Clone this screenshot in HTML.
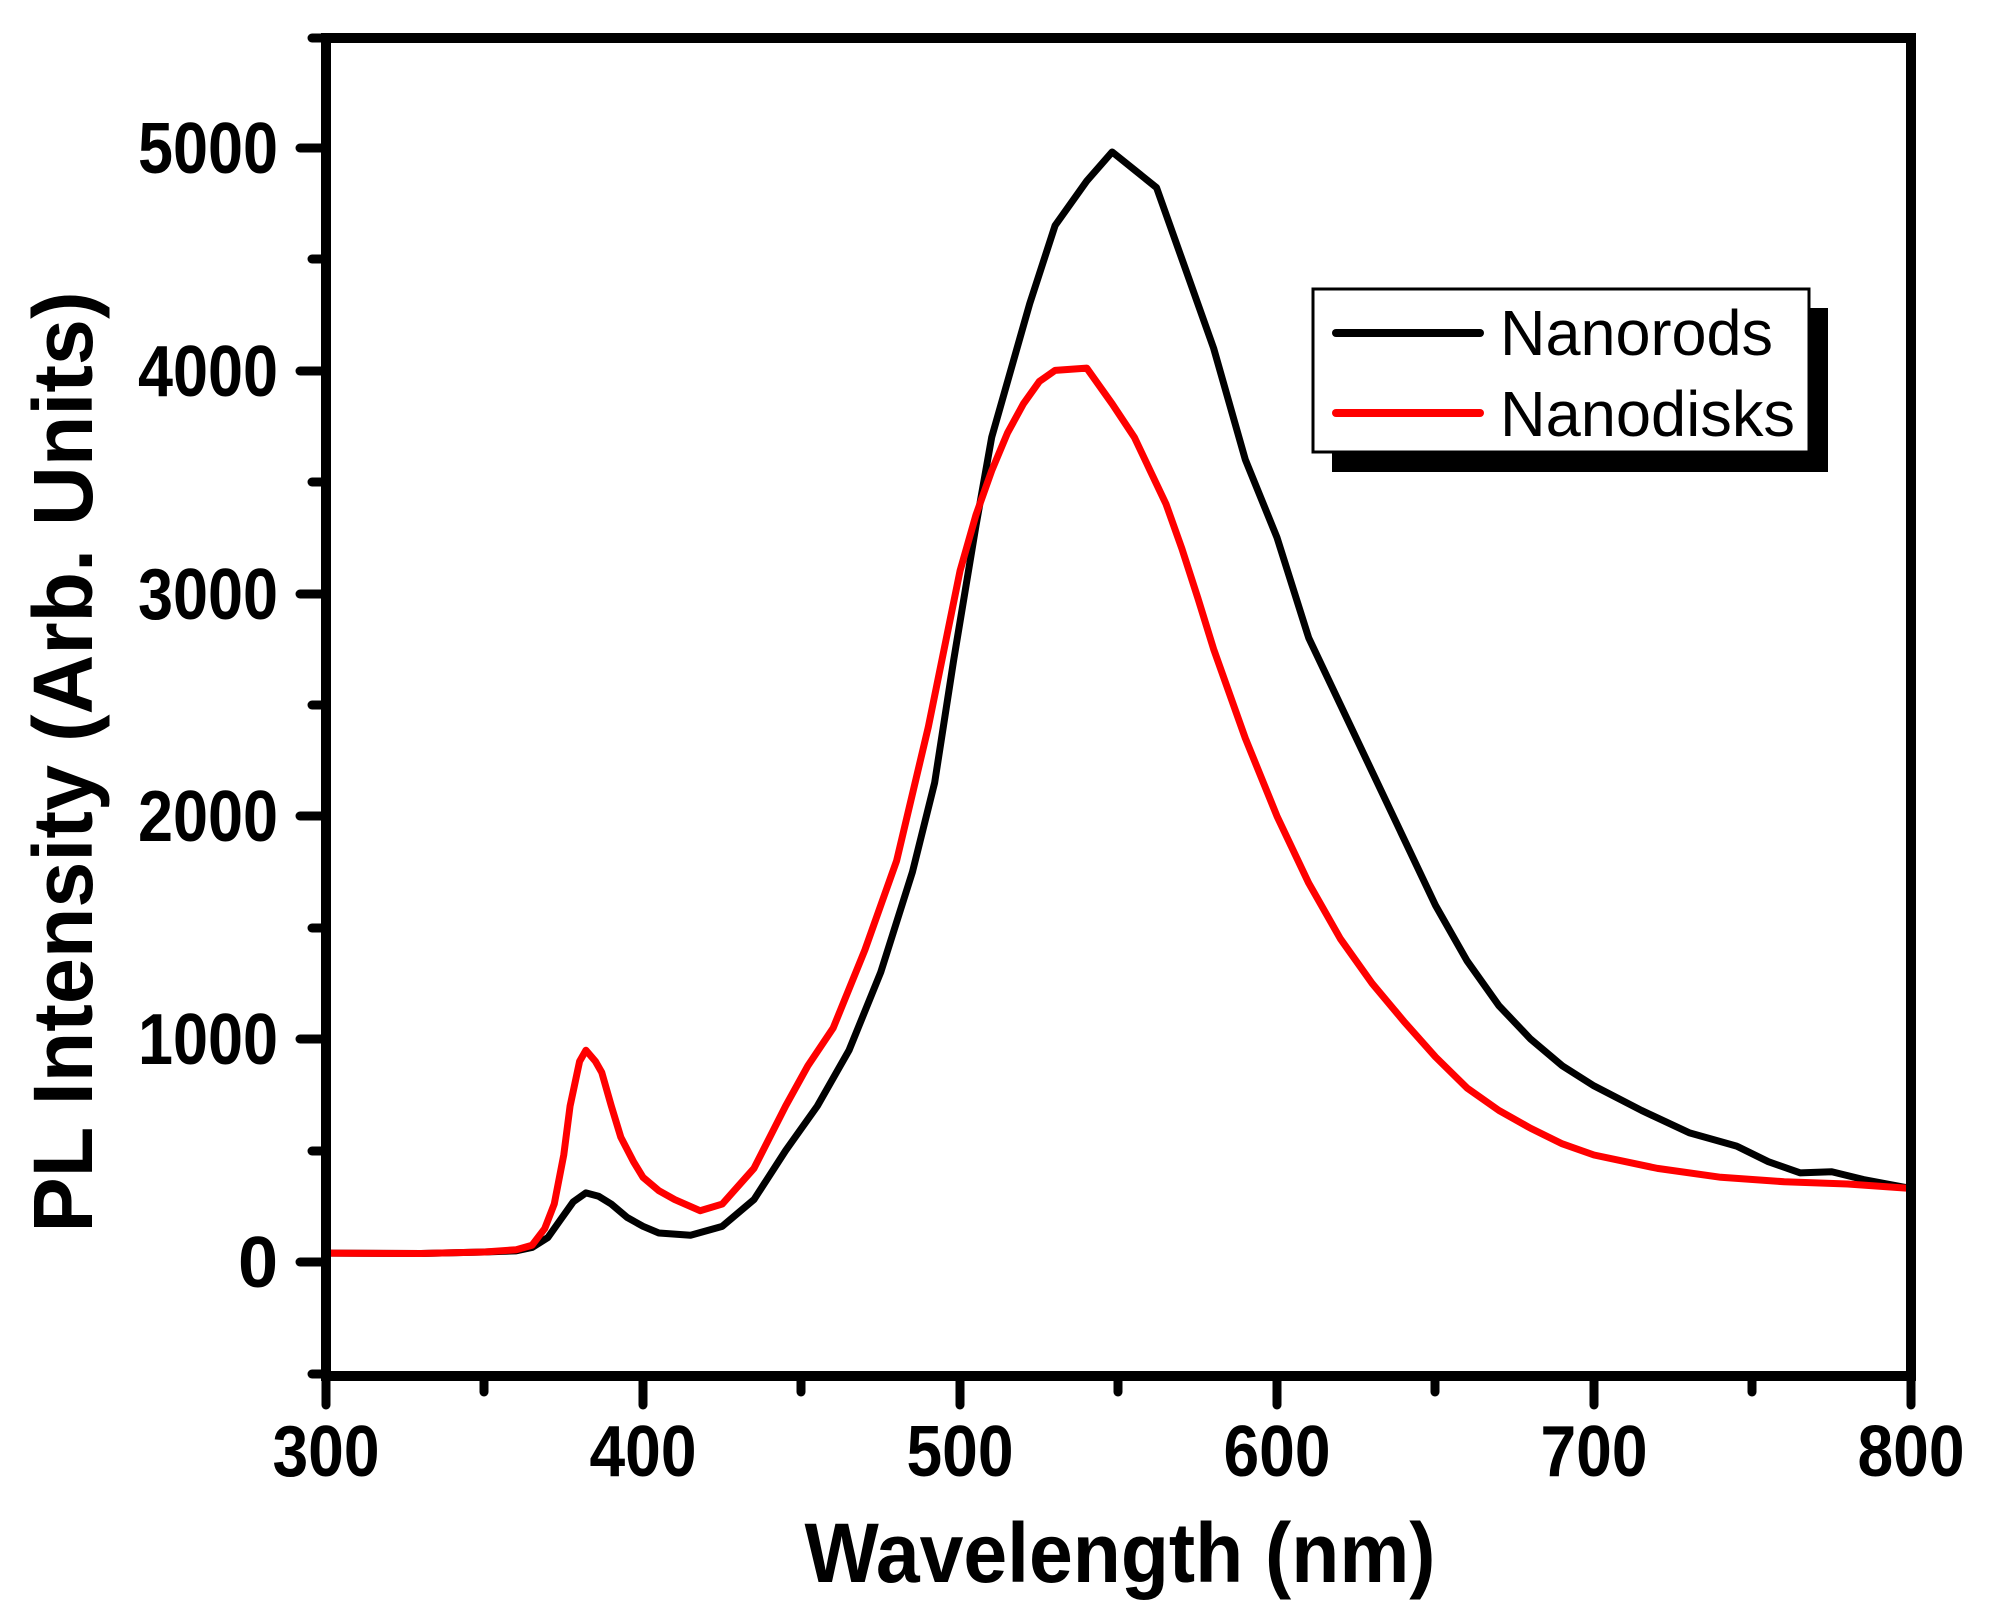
<!DOCTYPE html>
<html><head><meta charset="utf-8"><style>
html,body{margin:0;padding:0;background:#fff;}
svg{display:block;}
text{font-family:"Liberation Sans",Arial,sans-serif;}
</style></head><body>
<svg width="1993" height="1614" viewBox="0 0 1993 1614" xmlns="http://www.w3.org/2000/svg">
<rect width="1993" height="1614" fill="#fff"/>
<g transform="matrix(3.17 0 0 -0.2229 -625 1262)" fill="none" stroke-linejoin="round" stroke-linecap="round">
<polyline vector-effect="non-scaling-stroke" stroke="#000" stroke-width="7" points="300,40 330,38 350,45 360,50 365,65 370,110 374,190 378,270 382,310 386,295 390,260 395,200 400,160 405,130 415,120 425,160 435,280 445,500 455,700 465,950 475,1300 485,1750 492,2150 498,2700 505,3300 510,3700 515,3950 522,4300 530,4650 540,4850 548,4980 555,4900 562,4820 570,4500 580,4100 590,3600 600,3250 610,2800 620,2500 630,2200 640,1900 650,1600 660,1350 670,1150 680,1000 690,880 700,790 715,680 730,580 745,520 755,450 765,400 775,405 785,370 800,330"/>
<polyline vector-effect="non-scaling-stroke" stroke="#f00" stroke-width="7" points="300,40 330,38 350,45 360,55 365,75 369,150 372,260 375,480 377,700 380,900 382,950 385,900 387,850 390,700 393,560 397,450 400,380 405,320 410,280 418,230 425,260 435,420 445,700 452,880 460,1050 470,1400 480,1800 490,2400 495,2750 500,3100 505,3350 510,3550 515,3720 520,3850 525,3950 530,4000 540,4010 548,3850 555,3700 560,3550 565,3400 570,3200 575,2980 580,2750 590,2350 600,2000 610,1700 620,1450 630,1250 640,1080 650,920 660,780 670,680 680,600 690,530 700,480 720,420 740,380 760,360 780,350 800,330"/>
</g>
<rect x="326" y="38" width="1585" height="1338" fill="none" stroke="#000" stroke-width="10"/>
<g stroke="#000" stroke-width="9" stroke-linecap="round">
<line x1="326" y1="1376" x2="326" y2="1405"/>
<line x1="643" y1="1376" x2="643" y2="1405"/>
<line x1="960" y1="1376" x2="960" y2="1405"/>
<line x1="1277" y1="1376" x2="1277" y2="1405"/>
<line x1="1594" y1="1376" x2="1594" y2="1405"/>
<line x1="1911" y1="1376" x2="1911" y2="1405"/>
<line x1="484" y1="1376" x2="484" y2="1392"/>
<line x1="801" y1="1376" x2="801" y2="1392"/>
<line x1="1118" y1="1376" x2="1118" y2="1392"/>
<line x1="1435" y1="1376" x2="1435" y2="1392"/>
<line x1="1752" y1="1376" x2="1752" y2="1392"/>
<line x1="326" y1="1262" x2="300" y2="1262"/>
<line x1="326" y1="1039" x2="300" y2="1039"/>
<line x1="326" y1="816" x2="300" y2="816"/>
<line x1="326" y1="594" x2="300" y2="594"/>
<line x1="326" y1="371" x2="300" y2="371"/>
<line x1="326" y1="148" x2="300" y2="148"/>
<line x1="326" y1="1374" x2="312" y2="1374"/>
<line x1="326" y1="1151" x2="312" y2="1151"/>
<line x1="326" y1="928" x2="312" y2="928"/>
<line x1="326" y1="705" x2="312" y2="705"/>
<line x1="326" y1="482" x2="312" y2="482"/>
<line x1="326" y1="259" x2="312" y2="259"/>
<line x1="326" y1="38" x2="312" y2="38"/>
</g>
<g font-size="72" font-weight="bold" text-anchor="middle" fill="#000">
<text x="326" y="1476" textLength="107" lengthAdjust="spacingAndGlyphs">300</text>
<text x="643" y="1476" textLength="107" lengthAdjust="spacingAndGlyphs">400</text>
<text x="960" y="1476" textLength="107" lengthAdjust="spacingAndGlyphs">500</text>
<text x="1277" y="1476" textLength="107" lengthAdjust="spacingAndGlyphs">600</text>
<text x="1594" y="1476" textLength="107" lengthAdjust="spacingAndGlyphs">700</text>
<text x="1911" y="1476" textLength="107" lengthAdjust="spacingAndGlyphs">800</text>
</g>
<g font-size="72" font-weight="bold" text-anchor="end" fill="#000">
<text x="278" y="1287">0</text>
<text x="278" y="1064" textLength="140" lengthAdjust="spacingAndGlyphs">1000</text>
<text x="278" y="841" textLength="140" lengthAdjust="spacingAndGlyphs">2000</text>
<text x="278" y="619" textLength="140" lengthAdjust="spacingAndGlyphs">3000</text>
<text x="278" y="396" textLength="140" lengthAdjust="spacingAndGlyphs">4000</text>
<text x="278" y="173" textLength="140" lengthAdjust="spacingAndGlyphs">5000</text>
</g>
<text x="1120" y="1582" font-size="84" font-weight="bold" text-anchor="middle" textLength="631" lengthAdjust="spacingAndGlyphs">Wavelength (nm)</text>
<text transform="translate(92,762) rotate(-90)" font-size="84" font-weight="bold" text-anchor="middle" textLength="941" lengthAdjust="spacingAndGlyphs">PL Intensity (Arb. Units)</text>
<rect x="1332" y="308" width="496" height="164" fill="#000"/>
<rect x="1313" y="289" width="496" height="163" fill="#fff" stroke="#000" stroke-width="3"/>
<line x1="1336" y1="333" x2="1480" y2="333" stroke="#000" stroke-width="8" stroke-linecap="round"/>
<line x1="1336" y1="413" x2="1480" y2="413" stroke="#f00" stroke-width="8" stroke-linecap="round"/>
<text x="1500" y="355" font-size="64" textLength="273" lengthAdjust="spacingAndGlyphs">Nanorods</text>
<text x="1500" y="436" font-size="64" textLength="295" lengthAdjust="spacingAndGlyphs">Nanodisks</text>
</svg>
</body></html>
